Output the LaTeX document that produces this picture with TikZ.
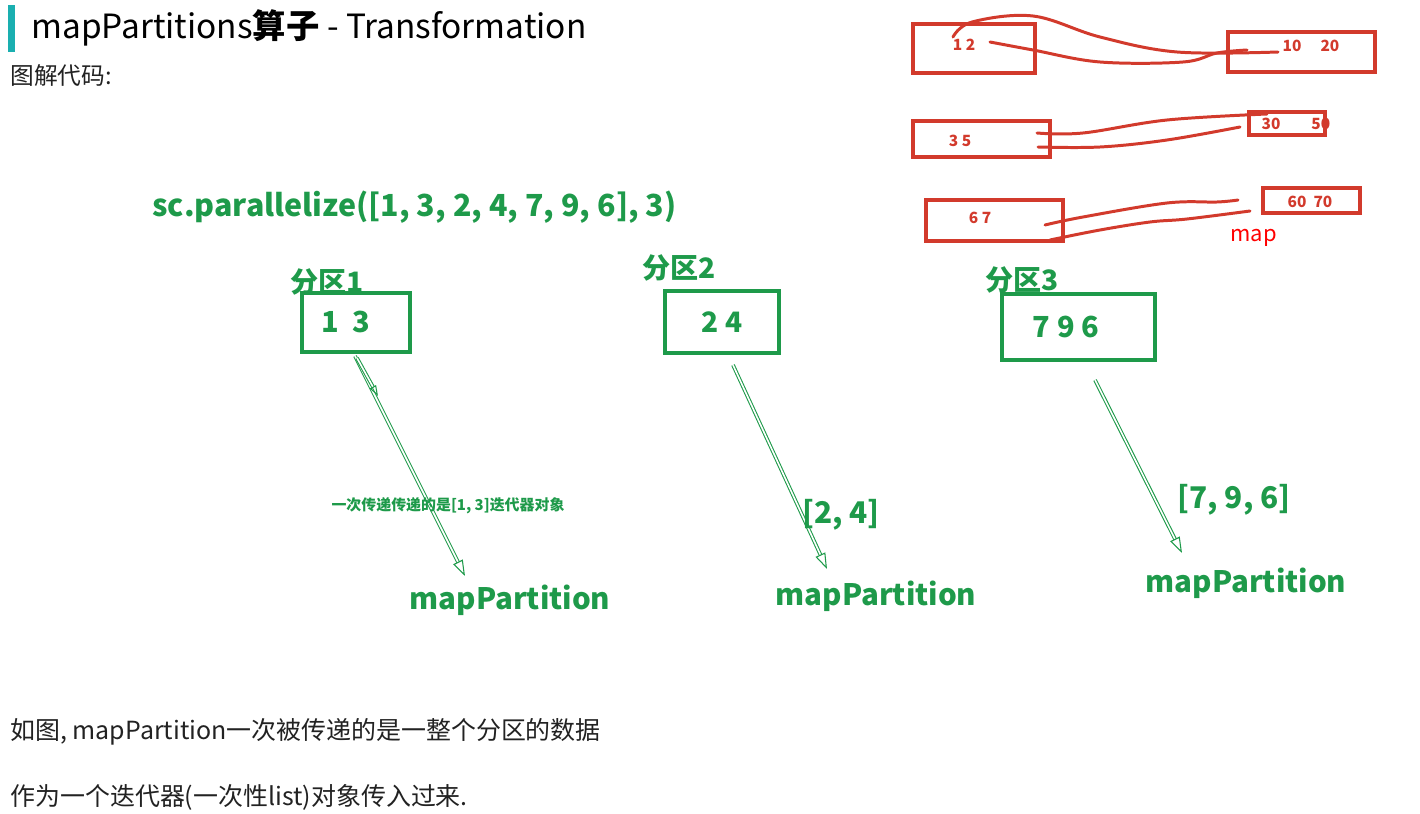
\documentclass[tikz,border=0pt]{standalone}
\usepackage{fontspec}
\setmainfont{Noto Sans CJK SC}
\usepackage{xcolor}
\usepackage{tikz}
\usetikzlibrary{arrows.meta}
\definecolor{barteal}{HTML}{1AAFB0}
\definecolor{partgreen}{HTML}{1E9A4A}
\definecolor{penred}{HTML}{D23A2C}
\definecolor{labelred}{HTML}{FF0000}
\definecolor{bodygray}{HTML}{222222}

\begin{document}
\begin{tikzpicture}[x=0.02cm, y=-0.02cm,
    part/.style={draw=partgreen, line width=2.2pt, text=partgreen,
      font=\bfseries\fontsize{16}{18}\selectfont, inner sep=0pt},
    greentxt/.style={text=partgreen, font=\bfseries\fontsize{#1}{#1}\selectfont, inner sep=0pt},
    flow/.style={draw=partgreen, line width=0.6pt, double=white, double distance=0.9pt,
      -{Triangle[open, length=9pt, width=6pt]}},
    penbox/.style={draw=penred, line width=1.8pt, inner sep=0pt},
    pentxt/.style={text=penred, font=\bfseries\fontsize{8.8}{9}\selectfont, inner sep=0pt},
    pen/.style={draw=penred, line width=1.7pt, line cap=round}]
  \useasboundingbox (0,0) rectangle (1420,814);
  % --- Heading ---
  \fill[barteal] (8,5) rectangle (15,52);
  \node[anchor=west, inner sep=0pt, text=black, font=\fontsize{19}{21}\selectfont] (title) at (31,28)
    {mapPartitions\textbf{算子} - Transformation};
  \node[anchor=west, inner sep=0pt, text=bodygray, font=\fontsize{13.5}{15}\selectfont] (sub) at (10,76) {图解代码:};
  % --- Source list ---
  \node[greentxt=17.3, anchor=west] (code) at (152,207) {sc.parallelize([1, 3, 2, 4, 7, 9, 6], 3)};
  % --- Partitions ---
  \node[part, minimum width=2.16cm, minimum height=1.18cm] (p1) at (356,322.5) {};
  \node[greentxt=16.5] (p1 val) at (346,322) {1\ \ 3};
  \node[greentxt=16, anchor=west] (p1 name) at (290,282) {分区1};
  \node[part, minimum width=2.28cm, minimum height=1.24cm] (p2) at (722,322) {2 4};
  \node[greentxt=16, anchor=west] (p2 name) at (642,268) {分区2};
  \node[part, minimum width=3.06cm, minimum height=1.32cm] (p3) at (1078.5,327) {};
  \node[greentxt=16.5] (p3 val) at (1066,327) {7 9 6};
  \node[greentxt=16, anchor=west] (p3 name) at (985,280) {分区3};
  % --- mapPartition targets ---
  \node[greentxt=16.8] (mp1) at (510,600) {mapPartition};
  \node[greentxt=16.8] (mp2) at (876,596) {mapPartition};
  \node[greentxt=16.8] (mp3) at (1246,583) {mapPartition};
  \coordinate (s1) at (355,356);
  \coordinate (s1b) at (357,358);
  \coordinate (t1b) at (378,396);
  \coordinate (t1) at (465,576);
  \coordinate (s2) at (733,365);
  \coordinate (t2) at (827,569);
  \coordinate (s3) at (1095,380);
  \coordinate (t3) at (1182,553);
  \draw[flow] (s1) -- (t1);
  \draw[flow, -{Triangle[open, length=6pt, width=4pt]}] (s1b) -- (t1b);
  \draw[flow] (s2) -- (t2);
  \draw[flow] (s3) -- (t3);
  \node[greentxt=8.5] (note1) at (448,506) {一次传递传递的是[1, 3]迭代器对象};
  \node[greentxt=17] (it2) at (841,515) {[2, 4]};
  \node[greentxt=17] (it3) at (1234,500) {[7, 9, 6]};
  % --- Hand sketch: map per element ---
  \node[penbox, minimum width=2.44cm, minimum height=0.98cm] (ra) at (974,48.5) {};
  \node[pentxt] (ra txt) at (964,45) {1 2};
  \node[penbox, minimum width=2.94cm, minimum height=0.8cm] (rb) at (1301.5,52) {};
  \node[pentxt] (rb txt) at (1311,46) {10\quad\ 20};
  \draw[pen] plot[smooth, tension=0.6] coordinates
    {(953,37) (972,22) (1033,16) (1100,37) (1177,52) (1278,52)};
  \draw[pen] plot[smooth, tension=0.6] coordinates
    {(990,42) (1033,50) (1100,62) (1183,62) (1217,53) (1247,50)};
  \node[penbox, minimum width=2.74cm, minimum height=0.72cm] (rc) at (981.5,139) {};
  \node[pentxt] (rc txt) at (960,141) {3 5};
  \node[penbox, minimum width=1.52cm, minimum height=0.46cm] (rd) at (1287,123.5) {};
  \node[pentxt] (rd txt) at (1296,124) {30\qquad 50};
  \draw[pen] plot[smooth, tension=0.6] coordinates
    {(1037,133) (1083,133) (1167,120) (1267,114)};
  \draw[pen] plot[smooth, tension=0.6] coordinates
    {(1038,147) (1100,147) (1167,140) (1240,127)};
  \node[penbox, minimum width=2.74cm, minimum height=0.82cm] (re) at (994.5,220.5) {};
  \node[pentxt] (re txt) at (980,218) {6 7};
  \node[penbox, minimum width=1.94cm, minimum height=0.5cm] (rf) at (1311.5,200.5) {};
  \node[pentxt] (rf txt) at (1310,202) {60\ \ 70};
  \draw[pen] plot[smooth, tension=0.6] coordinates
    {(1045,225) (1083,217) (1167,203) (1217,202) (1238,200)};
  \draw[pen] plot[smooth, tension=0.6] coordinates
    {(1050,240) (1100,230) (1150,222) (1187,219) (1250,211)};
  \node[text=labelred, inner sep=0pt, font=\fontsize{12.5}{14}\selectfont, anchor=west] (maplbl) at (1230,238) {map};
  % --- Notes ---
  \node[anchor=west, inner sep=0pt, text=bodygray, font=\fontsize{14.2}{16}\selectfont] (note2) at (10,732)
    {如图, mapPartition一次被传递的是一整个分区的数据};
  \node[anchor=west, inner sep=0pt, text=bodygray, font=\fontsize{14.2}{16}\selectfont] (note3) at (10,797)
    {作为一个迭代器(一次性list)对象传入过来.};
\end{tikzpicture}
\end{document}
